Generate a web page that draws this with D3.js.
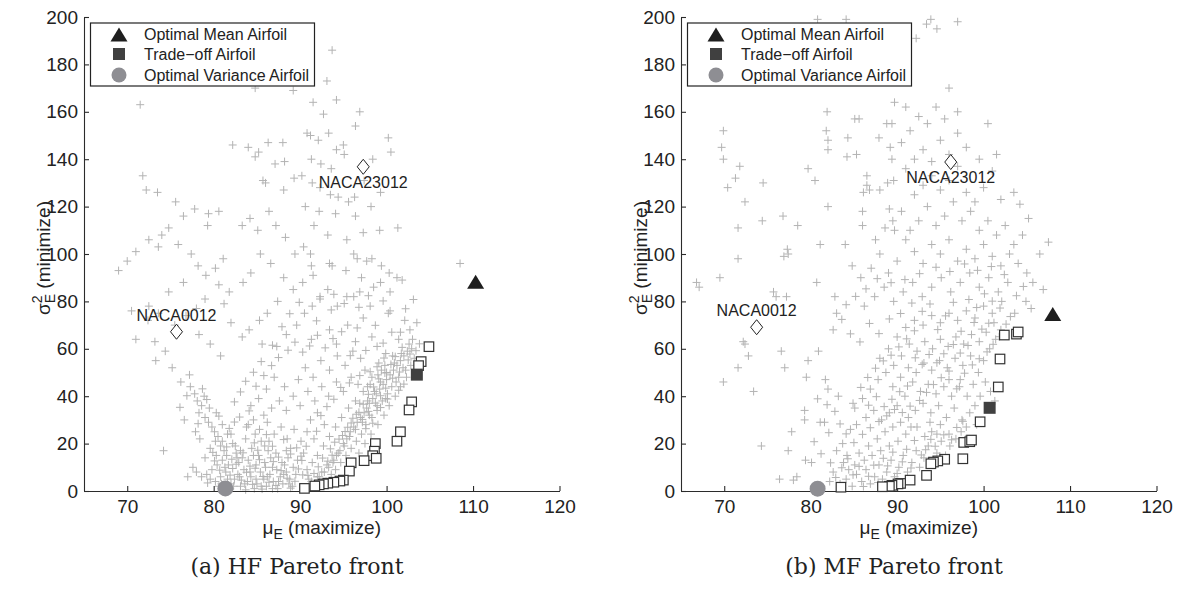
<!DOCTYPE html>
<html>
<head>
<meta charset="utf-8">
<script src="https://cdn.jsdelivr.net/npm/d3@7"></script>
<style>
  body { margin: 0; background: #fff; }
  svg { display: block; }
</style>
</head>
<body>
<div id="chart"></div>
<script>
// axis settings shared by both panels
const xDomain = [65, 120];
const yDomain = [0, 200];
const xTicks = [70, 80, 90, 100, 110, 120];
const yTicks = [0, 20, 40, 60, 80, 100, 120, 140, 160, 180, 200];
const legendLabels = ["Optimal Mean Airfoil", "Trade\u2212off Airfoil", "Optimal Variance Airfoil"];
const captions = ["(a) HF Pareto front", "(b) MF Pareto front"];

// HF panel: special designs [mu, sigma^2]
const hfOptMean = [110.3, 88.3];
const hfTradeoff = [103.5, 49.1];
const hfOptVar = [81.35, 1.1];
const hfNaca0012 = [75.7, 67.2];
const hfNaca23012 = [97.3, 136.8];

// HF Pareto front (open squares)
const hfFront = [
  [104.9, 60.9], [104.0, 54.6], [103.7, 52.9], [102.9, 37.6], [102.6, 34.2], [101.6, 25.0],
  [101.2, 21.0], [98.7, 20.0], [98.6, 16.8], [98.4, 14.9], [98.8, 13.8], [97.4, 12.8],
  [95.9, 11.9], [95.7, 8.4], [95.0, 4.6], [94.6, 4.2], [93.9, 3.7], [93.2, 3.3],
  [92.7, 3.0], [92.2, 2.6], [91.7, 2.1], [90.5, 1.1]
];

// HF evaluated designs (gray crosses)
const hfCloud = [
  // sparse left / upper
  [71.5, 163], [71.8, 133], [72.2, 127], [73.5, 126], [69, 93], [70, 97], [71, 101], [72.5, 106],
  [74, 108], [74.8, 111], [73.6, 103], [75.9, 104], [76.5, 116], [77.8, 119], [79.4, 117], [80.6, 118],
  [79.3, 112], [75.6, 122], [77.4, 100], [78.2, 95], [79.1, 91], [80.2, 94], [81.1, 98], [80.6, 87],
  [81.8, 84], [79, 81], [78, 77], [76.8, 74], [75.5, 70], [73.6, 75], [72.4, 72], [73.2, 63],
  [74.4, 59], [73.3, 55], [75.2, 52], [76.2, 46], [77.2, 49], [74.2, 17], [77, 6], [72.5, 78],
  [74.8, 84], [76.5, 88], [78.3, 66], [79.6, 62], [80.8, 57], [82, 71], [71, 64], [70.5, 76], [81.2, 79],
  // left arm
  [77.3, 44], [77.8, 41], [78.1, 38], [78.6, 36], [78.3, 33], [79.0, 31], [79.4, 29], [79.8, 27],
  [80.1, 25], [80.5, 23], [80.2, 21], [80.8, 19], [81.2, 17], [81.5, 15], [81.0, 13], [80.4, 11],
  [79.8, 9], [79.2, 7], [78.6, 6], [78.0, 8], [77.6, 10], [79.0, 14], [79.6, 18], [78.4, 22],
  [77.9, 25], [76.6, 30], [78.9, 40], [79.5, 35], [80.3, 33], [81.0, 28], [81.6, 24], [82.2, 20], [82.6, 16],
  [79.9, 16.3], [81.8, 26.4], [83.0, 31.2], [84.1, 33.8], [82.4, 29.1], [80.6, 31.6], [79.2, 38.6],
  [78.7, 43.1], [76.9, 40.2], [76.1, 35.3], [78.2, 28.4],
  // bottom cluster
  [80.2, 4], [80.8, 6], [81.4, 8], [82.0, 3], [82.4, 5], [82.8, 7], [83.1, 2], [83.5, 9],
  [83.9, 4], [84.3, 6], [84.7, 1], [85.0, 3], [85.4, 8], [85.8, 5], [86.1, 2], [86.5, 7],
  [86.9, 4], [87.3, 9], [87.7, 6], [88.0, 3], [88.4, 8], [88.8, 5], [89.2, 10], [81.7, 11],
  [82.9, 12], [84.0, 13], [84.9, 11], [85.9, 12], [86.8, 10], [87.9, 12], [83.3, 14], [85.2, 15],
  [86.3, 17], [84.4, 18], [82.5, 19], [83.7, 22], [85.5, 21], [87.2, 16], [88.6, 14], [89.5, 7],
  [80.6, 2], [81.9, 1], [83.7, 0.5], [85.6, 0.8], [87.4, 1], [89.1, 2], [86.0, 10], [84.2, 10.5],
  [82.2, 9.5], [88.2, 11], [80.9, 3], [81.6, 5], [82.3, 2], [83.0, 6], [83.6, 3], [84.2, 8],
  [84.9, 5], [85.5, 2], [86.2, 6], [86.8, 1], [87.5, 4], [88.1, 7], [88.7, 3], [81.3, 10],
  [82.7, 14], [84.6, 15], [86.6, 14], [88.4, 17], [85.9, 19], [83.1, 17], [80.3, 15], [79.6, 5],
  [81.0, 21], [82.0, 24], [84.0, 28], [85.8, 32],
  [79.3, 3.4], [80.7, 8.8], [81.3, 2.1], [81.9, 6.7], [82.6, 11.3], [83.2, 4.6], [83.8, 7.9], [84.5, 2.8],
  [84.8, 9.6], [85.3, 13.2], [85.7, 6.1], [86.4, 3.7], [86.9, 12.4], [87.2, 2.3], [87.8, 8.6], [88.5, 5.4],
  [88.9, 1.2], [89.4, 4.1], [89.8, 9.3], [90.3, 6.8], [80.1, 12.7], [81.5, 18.6], [82.1, 13.4], [83.4, 16.1],
  [84.7, 20.3], [85.1, 17.2], [86.1, 23.8], [86.8, 18.9], [87.5, 14.3], [88.1, 21.7], [88.9, 15.6],
  [89.6, 18.2], [90.2, 12.9],
  // right arm
  [92.2, 6], [92.8, 8], [93.3, 10], [93.8, 12], [94.2, 15], [94.6, 17], [95.0, 20], [95.4, 22],
  [95.8, 25], [96.2, 27], [96.6, 29], [97.0, 31], [97.4, 33], [97.7, 35], [98.0, 37], [98.4, 39],
  [98.8, 41], [99.2, 43], [99.6, 45], [100.0, 47], [100.4, 49], [100.8, 51], [101.2, 53], [101.6, 55],
  [102.0, 57], [102.4, 59], [101.9, 52], [101.4, 48], [100.6, 44], [100.1, 41], [99.5, 38], [98.9, 34],
  [98.3, 31], [97.6, 28], [97.1, 24], [96.5, 21], [95.9, 18], [95.3, 15], [94.7, 12], [94.1, 9],
  [93.6, 7], [96.0, 12], [96.8, 16], [97.5, 20], [98.2, 24], [99.0, 28], [99.7, 32], [100.3, 36],
  [101.0, 40], [101.6, 44], [102.3, 48], [102.8, 53], [103.2, 56], [102.9, 60], [100.7, 57], [99.8, 53],
  [99.0, 49], [98.1, 45], [97.3, 42], [96.4, 38], [95.6, 35], [94.8, 31], [94.1, 27], [93.4, 23],
  [92.7, 19], [92.0, 15], [91.4, 12], [90.8, 9], [91.0, 5], [93.0, 4], [97.8, 38], [98.6, 42],
  [99.3, 46], [100.0, 50], [100.9, 54], [101.7, 58], [102.6, 62], [103.0, 64], [99.9, 39], [98.9, 36],
  [98.0, 32], [97.2, 29], [96.4, 26], [95.7, 23], [95.1, 19], [94.4, 16], [93.9, 13], [93.1, 11],
  [92.5, 8], [92.0, 6], [91.3, 4], [96.9, 37], [97.8, 44], [99.4, 51], [101.1, 46], [102.2, 51],
  [93.5, 17.8], [94.0, 20.6], [94.9, 23.4], [95.5, 26.9], [96.1, 30.7], [96.8, 33.2], [97.3, 36.6],
  [97.9, 40.8], [98.5, 43.9], [99.1, 47.3], [99.8, 49.8], [100.5, 53.4], [101.0, 56.7], [101.8, 60.6],
  [102.5, 55.3], [103.4, 59.2], [103.8, 62.1], [101.5, 50.2], [100.7, 47.6], [99.9, 43.4], [99.3, 40.2],
  [98.7, 37.1], [97.9, 33.6], [97.2, 30.2], [96.5, 32.4], [95.9, 28.7], [95.2, 25.1], [94.5, 21.9],
  [93.7, 15.1], [93.2, 12.6], [92.6, 13.9], [92.1, 10.2], [91.6, 7.4], [90.9, 6.6], [97.6, 26.3],
  [98.4, 28.6], [99.3, 35.2], [100.1, 38.8], [101.4, 42.5], [102.0, 45.1], [102.7, 57.8], [99.7, 56.1],
  [98.9, 52.4], [98.1, 50.3], [96.9, 48.7], [95.7, 45.6], [94.7, 43.7], [93.9, 38.7], [93.1, 35.6],
  [92.4, 31.8], [91.9, 25.2], [90.7, 18.9], [90.1, 14.7],
  // middle
  [83.8, 27], [84.6, 30], [85.3, 26], [86.2, 29], [87.0, 24], [87.8, 27], [88.5, 22], [89.3, 26],
  [90.1, 21], [90.8, 25], [86.7, 35], [87.6, 38], [88.4, 34], [89.2, 40], [90.0, 36], [90.9, 42],
  [91.7, 38], [92.5, 44], [93.3, 40], [94.2, 46], [95.0, 42], [95.9, 48], [96.7, 45], [97.5, 51],
  [98.3, 48], [99.1, 54], [99.9, 58], [89.8, 47], [90.6, 52], [91.5, 48], [92.4, 55], [93.4, 51],
  [94.3, 57], [95.2, 53], [96.1, 59], [97.0, 56], [88.2, 44], [87.0, 48], [86.1, 43], [85.2, 39],
  [84.3, 36], [91.2, 30], [92.0, 33], [92.8, 28], [88.9, 18], [90.4, 16], [89.7, 13], [91.6, 22],
  [86.4, 21], [84.8, 24],
  [84.9, 44.2], [85.8, 48.7], [86.7, 52.9], [87.5, 56.3], [88.6, 59.4], [89.4, 62.8], [90.3, 58.6],
  [91.1, 61.2], [92.0, 65.7], [92.9, 60.4], [93.8, 64.3], [94.8, 67.2], [95.8, 57.1], [96.6, 68.8],
  [97.6, 59.3], [98.7, 69.9], [99.6, 62.4], [85.5, 54.6], [84.6, 50.1], [83.7, 46.3], [83.1, 41.8],
  [82.4, 37.6], [86.8, 61.5], [87.9, 69.3], [88.8, 74.8], [89.9, 79.6], [91.9, 71.8], [93.6, 76.4],
  [95.1, 79.1], [96.8, 77.5], [97.9, 82.4], [99.6, 80.2], [102.2, 76.9], [103.1, 80.8],
  // upper middle
  [84, 145], [85.2, 143], [86.3, 147], [87.1, 138], [88.2, 139], [86, 130], [88.1, 127], [89.3, 132],
  [86.4, 118], [84.2, 115], [83.3, 112], [85.1, 110], [87.2, 112], [88.3, 107], [89.4, 100], [90.4, 103],
  [85.4, 100], [86.6, 96], [84.3, 92], [83.4, 88], [88.1, 90], [89.2, 85], [90.3, 88], [87.4, 80],
  [86.2, 75], [85.3, 72], [84.1, 68], [83.3, 65], [85.6, 62], [87.3, 61], [88.4, 66], [89.6, 70],
  [90.5, 75], [91.4, 78], [92.3, 82], [93.2, 85], [91.2, 150], [92.1, 148], [93.3, 151], [94.2, 144],
  [95.1, 142], [91.3, 140], [92.4, 138], [93.6, 136], [90.2, 133], [91.4, 130], [92.3, 128], [93.5, 125],
  [94.4, 124], [95.6, 122], [96.3, 124], [90.6, 120], [92.2, 118], [94.1, 117], [96.4, 116], [98.2, 120],
  [99.3, 126], [97.4, 131], [98.4, 140], [100.2, 149], [100.5, 143], [101.3, 111], [99.2, 110], [97.3, 109],
  [95.4, 106], [93.2, 108], [91.6, 112], [96.2, 100], [98.3, 98], [99.4, 95], [100.3, 92], [101.2, 90],
  [97.1, 90], [95.3, 93], [93.4, 96], [91.3, 95], [108.5, 96], [98.5, 86], [100.4, 84], [96.2, 82],
  [94.3, 78], [98.1, 78], [100.2, 75], [102.1, 72], [97.3, 73], [95.5, 70], [93.4, 68], [91.3, 64],
  [94.2, 62], [96.4, 63], [98.3, 65], [100.6, 67], [101.4, 64], [102.7, 68], [103.5, 71], [101.8, 89],
  [99.3, 88], [96.9, 84], [95.4, 82], [93.9, 83], [92.3, 81], [93.7, 95], [96.6, 98], [97.7, 97],
  [91.5, 91], [91.2, 100], [98.9, 61], [100.4, 76], [101.6, 67],
  // top
  [89.2, 169], [93.1, 173], [94.2, 165], [93.7, 186], [91.5, 164], [92.7, 159], [96.9, 160], [96.4, 154],
  [95.0, 146], [88.0, 147], [82.2, 146], [84.8, 141], [90.8, 151], [84.8, 170], [85.7, 131]
];

// MF panel: special designs
const mfOptMean = [108.0, 74.7];
const mfTradeoff = [100.7, 35.1];
const mfOptVar = [80.8, 1.0];
const mfNaca0012 = [73.75, 69.1];
const mfNaca23012 = [96.2, 138.8];

// MF Pareto front (open squares)
const mfFront = [
  [102.4, 65.8], [103.8, 66.2], [104.0, 67.1], [101.9, 55.7], [101.7, 43.9], [99.6, 29.2],
  [97.7, 20.5], [98.4, 20.8], [98.6, 21.5], [97.6, 13.6], [95.5, 13.4], [94.7, 12.7],
  [94.2, 12.2], [93.9, 11.5], [93.4, 6.6], [91.5, 4.6], [90.4, 3.2], [90.1, 3.0],
  [89.4, 2.4], [89.1, 2.0], [88.3, 1.8], [83.5, 1.6]
];

// MF evaluated designs (gray crosses)
const mfCloud = [
  // sparse left / upper
  [69.9, 152], [69.7, 145], [69.9, 140], [71.8, 137], [71.3, 132], [70.4, 128], [74.5, 130], [72.4, 122],
  [71.6, 111], [74.4, 114], [76.8, 116], [78.5, 112], [79.7, 136], [80.5, 131], [82, 120], [81.9, 160],
  [81.8, 152], [82, 148], [82, 144], [84.3, 149], [85.1, 157], [85.6, 157], [84.2, 141], [85.3, 142],
  [87.9, 149], [86.5, 133], [86.5, 129], [86.8, 127], [86.1, 126], [88, 127], [86, 118], [86, 112],
  [84, 104], [81.1, 104], [77.3, 102], [80.8, 199], [84.1, 199], [93.9, 199], [97, 198], [89.7, 164],
  [88.8, 155], [89.4, 155], [89.2, 145], [89.4, 140], [88.9, 130], [89.6, 131], [89.1, 119], [88.6, 111],
  [89.7, 110], [66.8, 88], [67.1, 86], [69.5, 90], [71.6, 98], [75.7, 84], [76, 82], [77.2, 82],
  [77.4, 100], [76.9, 99], [80.7, 88], [82.8, 82], [72.4, 62], [72.2, 63], [72.8, 57], [71.6, 52],
  [69.9, 46], [73.4, 42], [74.3, 19], [76.6, 59], [77, 52], [79.7, 55], [80.9, 59], [79.5, 48],
  [81.7, 47], [82, 43], [83, 75], [83.2, 40], [84.9, 37], [82.6, 68], [79.3, 34], [79.3, 30],
  [81.1, 29], [81.6, 29], [77.8, 25], [77.4, 17], [79.4, 13], [80.1, 12], [76.4, 5], [78, 4.6],
  [78.4, 6], [83, 17], [83.7, 20], [84.2, 15], [84.6, 26], [85.3, 28],
  // bottom wedge
  [83.4, 3], [84.1, 5], [84.8, 2], [85.3, 7], [85.9, 4], [86.4, 9], [86.9, 3], [87.4, 6],
  [87.9, 11], [88.3, 5], [88.8, 8], [89.3, 13], [89.7, 6], [90.2, 10], [90.7, 15], [91.2, 8],
  [91.7, 12], [92.2, 17], [92.6, 10], [93.1, 14], [93.6, 19], [94.1, 12], [94.6, 16], [95.1, 21],
  [95.6, 15], [96.1, 19], [86.2, 13], [87.1, 15], [88.1, 17], [89.1, 19], [90.1, 21], [91.0, 24],
  [85.1, 11], [84.4, 9], [83.8, 12], [82.6, 8], [82.2, 4], [85.6, 16], [86.7, 19], [87.7, 22],
  [88.6, 25], [89.5, 27], [90.4, 29], [91.3, 31], [92.3, 27], [93.2, 23], [94.0, 25], [95.0, 28],
  [96.0, 24], [96.8, 22], [97.4, 25], [98.0, 27],
  [82.9, 5.7], [83.6, 9.8], [84.3, 13.6], [84.9, 6.8], [85.6, 10.4], [86.1, 1.9], [86.7, 6.2], [87.3, 10.9],
  [87.8, 3.6], [88.4, 13.8], [88.9, 10.6], [89.5, 16.4], [90.0, 7.4], [90.6, 12.3], [91.1, 17.6], [91.6, 9.7],
  [92.0, 21.3], [92.8, 15.2], [93.3, 17.4], [93.9, 21.8], [94.4, 18.9], [94.9, 14.6], [95.4, 23.7],
  [96.3, 21.6], [96.9, 26.8], [97.6, 29.4], [85.0, 20.4], [86.0, 23.9], [86.9, 26.7], [87.9, 29.3],
  [88.8, 31.7], [89.7, 34.4], [90.6, 33.1], [91.5, 35.8], [84.1, 24.1], [83.4, 28.3], [82.8, 33.6],
  [81.9, 36.4], [80.8, 38.9], [82.1, 24.6], [80.4, 20.8], [81.2, 15.7], [82.3, 11.9],
  // diagonal band
  [92.1, 34], [93.0, 37], [93.9, 33], [94.8, 36], [95.7, 31], [96.6, 35], [97.5, 30], [98.4, 33],
  [99.2, 28], [99.0, 36], [98.1, 40], [97.2, 44], [96.3, 40], [95.4, 44], [94.5, 41], [93.6, 45],
  [92.7, 42], [91.8, 46], [90.9, 40], [90.0, 36], [89.1, 33], [88.2, 30], [87.3, 34], [86.4, 31],
  [89.5, 44], [90.4, 48], [91.3, 52], [92.2, 50], [93.1, 54], [94.0, 51], [94.9, 55], [95.8, 52],
  [96.7, 56], [97.6, 53], [98.5, 57], [99.4, 50], [100.2, 46], [100.8, 42], [101.3, 38], [100.0, 55],
  [100.7, 60], [101.4, 64], [102.0, 68], [101.2, 71], [100.3, 67], [99.5, 63], [98.6, 66], [97.7, 62],
  [96.8, 65], [95.9, 61], [95.0, 64], [94.1, 60], [93.2, 63], [92.3, 59], [91.4, 62], [90.5, 57],
  [89.6, 53], [88.7, 50], [87.8, 47], [86.9, 43], [86.0, 39], [85.1, 35], [88.0, 56], [89.0, 60],
  [90.0, 65], [91.0, 69], [92.0, 72], [93.0, 70], [94.0, 74], [95.0, 71], [96.0, 75], [97.0, 72],
  [98.0, 76], [99.0, 73], [100.0, 78], [101.0, 75], [97.3, 47], [98.8, 45], [96.0, 47], [93.8, 29],
  [91.6, 27], [94.6, 24], [97.9, 22], [99.6, 40],
  [92.6, 38.2], [93.4, 41.6], [94.2, 44.9], [95.1, 47.8], [96.0, 50.6], [96.9, 43.1], [97.8, 49.7],
  [98.7, 53.2], [99.5, 55.8], [100.4, 58.7], [101.1, 61.9], [101.8, 65.1], [102.6, 70.4], [103.1, 73.6],
  [100.6, 70.8], [99.8, 68.3], [98.9, 71.1], [98.2, 61.4], [97.3, 58.2], [96.5, 61.8], [95.4, 57.9],
  [94.6, 54.1], [93.7, 57.6], [92.9, 53.4], [92.1, 56.2], [91.2, 44.3], [90.3, 41.9], [89.4, 38.7],
  [88.5, 35.6], [87.6, 39.8], [86.7, 36.2], [85.8, 43.7], [86.6, 47.9], [87.5, 51.8], [88.4, 54.9],
  [89.3, 57.3], [90.2, 60.8], [91.1, 64.2], [92.0, 67.6], [92.9, 75.8], [93.8, 78.9], [94.7, 68.1],
  [95.6, 73.9], [96.5, 79.6], [97.4, 67.4], [98.3, 80.8], [99.2, 77.4], [100.1, 83.2], [101.0, 80.1],
  [101.9, 77.2], [103.8, 82.4], [104.6, 86.3], [102.4, 91.3], [100.9, 94.7], [99.3, 93.1], [97.8, 95.8],
  [96.1, 92.6], [94.5, 94.4], [92.6, 91.7], [90.9, 89.2], [89.3, 87.9], [87.7, 89.6], [86.4, 85.3],
  [85.2, 82.1], [84.1, 78.6], [83.6, 72.4], [84.6, 66.3], [85.7, 62.9], [86.8, 70.7], [87.9, 66.4],
  [89.1, 72.6], [90.4, 74.9], [91.7, 79.3],
  // upper band
  [86.2, 78], [87.4, 82], [88.5, 86], [89.6, 80], [90.7, 84], [91.8, 88], [92.9, 82], [94.0, 86],
  [95.1, 90], [96.2, 84], [97.3, 88], [98.4, 92], [99.5, 86], [100.6, 90], [101.7, 84], [102.8, 88],
  [103.6, 75], [102.1, 80], [104.9, 80], [105.5, 77], [105.7, 88], [106.9, 85], [106.5, 100], [107.5, 105],
  [105.0, 92], [104.0, 96], [103.0, 100], [102.0, 95], [101.0, 99], [100.0, 104], [99.0, 98], [98.0, 102],
  [97.0, 97], [96.0, 106], [95.0, 100], [94.0, 104], [93.0, 96], [92.0, 101], [91.0, 106], [90.0, 97],
  [89.0, 92], [88.0, 100], [87.0, 94], [85.8, 90], [84.8, 95], [87.5, 106], [89.5, 114], [90.5, 118],
  [91.5, 110], [92.5, 114], [93.5, 120], [94.5, 112], [95.5, 116], [96.5, 122], [97.5, 114], [98.5, 118],
  [99.5, 110], [100.5, 114], [101.5, 108], [102.5, 112], [103.5, 104], [104.5, 108], [92.0, 125], [93.0, 129],
  [94.0, 133], [95.0, 127], [96.0, 131], [97.0, 137], [98.0, 126], [99.0, 122], [100.0, 128], [101.0, 135],
  [102.0, 123], [91.0, 136], [92.0, 140], [93.0, 144], [94.0, 139], [95.0, 148], [96.0, 142], [97.0, 151],
  [98.0, 145], [99.5, 140], [101.5, 142], [90.5, 147], [91.5, 152], [92.5, 158], [93.5, 155], [94.5, 162],
  [95.5, 157], [97.0, 160], [91.0, 162], [92.2, 191], [93.4, 197], [94.6, 195], [90.8, 176], [96.0, 170],
  [103.5, 126], [104.2, 121], [105.2, 115], [100.5, 155]
];

const svgWidth = 1178;
const svgHeight = 589;
const plotTop = 17;
const plotBottom = 491;
const plotWidth = 475.5;
const font = "'Liberation Sans', Arial, Helvetica, sans-serif";

const svg = d3.select("#chart")
  .append("svg")
  .attr("width", svgWidth)
  .attr("height", svgHeight)
  .style("background", "#fff");

const panels = [
  { left: 84, cloud: hfCloud, front: hfFront, optMean: hfOptMean, tradeoff: hfTradeoff,
    optVar: hfOptVar, naca0012: hfNaca0012, naca23012: hfNaca23012, caption: captions[0] },
  { left: 681, cloud: mfCloud, front: mfFront, optMean: mfOptMean, tradeoff: mfTradeoff,
    optVar: mfOptVar, naca0012: mfNaca0012, naca23012: mfNaca23012, caption: captions[1] }
];

const trianglePath = "M0,-7L8.5,7L-8.5,7Z";
const diamondPath = "M0,-7.5L6,0L0,7.5L-6,0Z";

panels.forEach(function (p) {
  const x = d3.scaleLinear().domain(xDomain).range([p.left, p.left + plotWidth]);
  const y = d3.scaleLinear().domain(yDomain).range([plotBottom, plotTop]);
  const g = svg.append("g");

  // gray crosses
  g.append("g")
    .selectAll("path")
    .data(p.cloud)
    .join("path")
    .attr("d", d => `M${x(d[0]) - 4},${y(d[1])}h8M${x(d[0])},${y(d[1]) - 4}v8`)
    .attr("stroke", "#b3b3b3")
    .attr("stroke-width", 1)
    .attr("fill", "none");

  // axes
  const xAxis = g.append("g")
    .attr("transform", `translate(0,${plotBottom})`)
    .call(d3.axisBottom(x).tickValues(xTicks).tickSizeInner(-5).tickSizeOuter(0).tickPadding(9));

  const yAxis = g.append("g")
    .attr("transform", `translate(${p.left},0)`)
    .call(d3.axisLeft(y).tickValues(yTicks).tickSizeInner(-5).tickSizeOuter(0).tickPadding(6));

  [xAxis, yAxis].forEach(function (a) {
    a.attr("font-family", font).attr("font-size", 19);
    a.selectAll("path, line").attr("stroke", "#2b2b2b").attr("stroke-width", 1.1);
    a.selectAll("text").attr("fill", "#222");
  });

  // pareto front
  g.append("g")
    .selectAll("rect")
    .data(p.front)
    .join("rect")
    .attr("x", d => x(d[0]) - 4.75)
    .attr("y", d => y(d[1]) - 4.75)
    .attr("width", 9.5)
    .attr("height", 9.5)
    .attr("fill", "#fff")
    .attr("stroke", "#333")
    .attr("stroke-width", 1.2);

  // selected airfoils
  g.append("rect")
    .attr("x", x(p.tradeoff[0]) - 6)
    .attr("y", y(p.tradeoff[1]) - 6)
    .attr("width", 12)
    .attr("height", 12)
    .attr("fill", "#404040");

  g.append("path")
    .attr("d", trianglePath)
    .attr("transform", `translate(${x(p.optMean[0])},${y(p.optMean[1])})`)
    .attr("fill", "#1e1e1e");

  g.append("circle")
    .attr("cx", x(p.optVar[0]))
    .attr("cy", y(p.optVar[1]))
    .attr("r", 8)
    .attr("fill", "#8e8e93");

  // NACA baselines
  [[p.naca0012, "NACA0012", -11], [p.naca23012, "NACA23012", 21]].forEach(function (n) {
    g.append("path")
      .attr("d", diamondPath)
      .attr("transform", `translate(${x(n[0][0])},${y(n[0][1])})`)
      .attr("fill", "#fff")
      .attr("stroke", "#222")
      .attr("stroke-width", 1);
    g.append("text")
      .attr("x", x(n[0][0]))
      .attr("y", y(n[0][1]) + n[2])
      .attr("text-anchor", "middle")
      .attr("font-family", font)
      .attr("font-size", 16)
      .attr("fill", "#222")
      .text(n[1]);
  });

  // axis labels
  const xLabel = g.append("text")
    .attr("x", p.left + plotWidth / 2)
    .attr("y", 534)
    .attr("text-anchor", "middle")
    .attr("font-family", font)
    .attr("font-size", 19)
    .attr("fill", "#222");
  xLabel.append("tspan").text("\u03bc");
  xLabel.append("tspan").attr("font-size", 14).attr("dy", 5).text("E");
  xLabel.append("tspan").attr("dy", -5).text(" (maximize)");

  const yLabel = g.append("text")
    .attr("transform", `translate(${p.left - 34},${(plotTop + plotBottom) / 2 + 4}) rotate(-90)`)
    .attr("text-anchor", "middle")
    .attr("font-family", font)
    .attr("font-size", 19)
    .attr("fill", "#222");
  yLabel.append("tspan").text("\u03c3");
  yLabel.append("tspan").attr("font-size", 14).attr("dy", -8).text("2");
  yLabel.append("tspan").attr("font-size", 14).attr("dx", -7.8).attr("dy", 13).text("E");
  yLabel.append("tspan").attr("dy", -5).text(" (minimize)");

  // legend
  const legend = g.append("g").attr("transform", `translate(${p.left + 6.5},23)`);
  legend.append("rect")
    .attr("width", 224)
    .attr("height", 63)
    .attr("fill", "#fff")
    .attr("stroke", "#222")
    .attr("stroke-width", 1.2);
  legend.append("path")
    .attr("d", trianglePath)
    .attr("transform", "translate(28.5,11.5)")
    .attr("fill", "#1e1e1e");
  legend.append("rect")
    .attr("x", 22.5)
    .attr("y", 25)
    .attr("width", 12)
    .attr("height", 12)
    .attr("fill", "#404040");
  legend.append("circle")
    .attr("cx", 28.5)
    .attr("cy", 52)
    .attr("r", 7.5)
    .attr("fill", "#8e8e93");
  legend.selectAll("text.entry")
    .data(legendLabels)
    .join("text")
    .attr("class", "entry")
    .attr("x", 53.5)
    .attr("y", (d, i) => 17 + i * 20.3)
    .attr("font-family", font)
    .attr("font-size", 16)
    .attr("fill", "#222")
    .text(d => d);

  // caption
  g.append("text")
    .attr("x", p.left + 213)
    .attr("y", 574)
    .attr("text-anchor", "middle")
    .attr("font-family", "'DejaVu Serif', 'Liberation Serif', serif")
    .attr("font-size", 22)
    .attr("fill", "#222")
    .text(p.caption);
});
</script>
</body>
</html>
